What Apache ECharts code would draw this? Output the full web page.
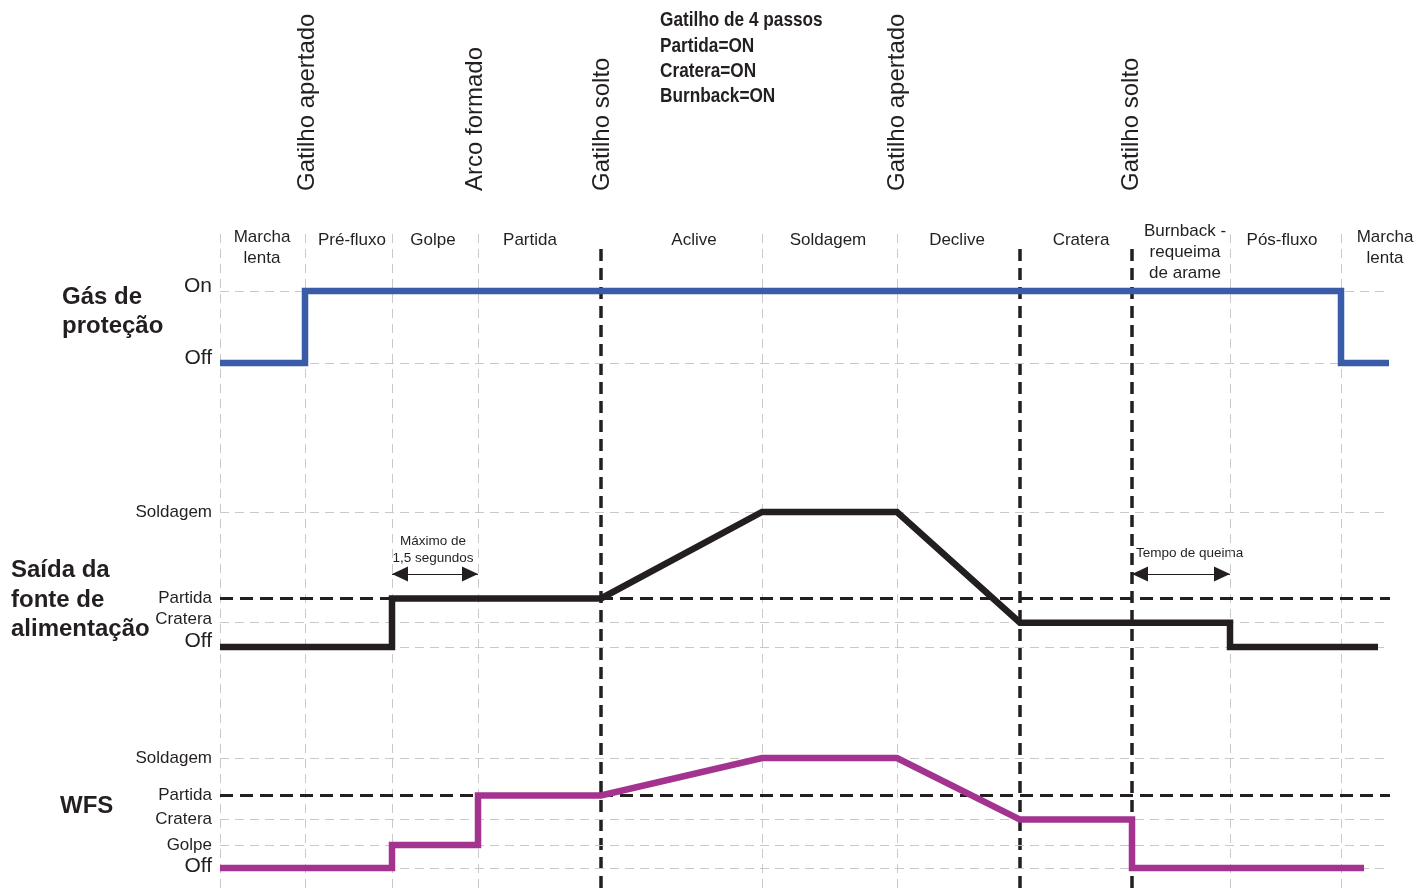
<!DOCTYPE html>
<html>
<head>
<meta charset="utf-8">
<script src="https://cdn.jsdelivr.net/npm/echarts@6/dist/echarts.min.js"></script>
<style>
html, body { margin: 0; padding: 0; background: #fff; }
#chart { width: 1427px; height: 888px; }
</style>
</head>
<body>
<div id="chart"></div>
<script>
// tempo (unidades do eixo x, 0 = início do diagrama)
var phaseBounds = [0, 85, 172, 258, 381, 542, 677, 800, 912, 1010, 1121];
var triggerTimes = [381, 800, 912];   // linhas pretas tracejadas
var phaseNames = ['Marcha\nlenta', 'Pré-fluxo', 'Golpe', 'Partida', 'Aclive', 'Soldagem', 'Declive', 'Cratera', 'Burnback -\nrequeima\nde arame', 'Pós-fluxo', 'Marcha\nlenta'];
var phaseCenters = [42, 132, 213, 310, 474, 608, 737, 861, 965, 1062, 1165];
var eventNames = ['Gatilho apertado', 'Arco formado', 'Gatilho solto', 'Gatilho apertado', 'Gatilho solto'];
var eventTimes = [87, 255, 382, 677, 911];

// Gás de proteção
var gasLevelNames = ['Off', 'On'];
var gasLevelValues = [0, 1];
var gasTime = [0, 85, 85, 1121, 1121, 1169];
var gasValue = [0, 0, 1, 1, 0, 0];

// Saída da fonte de alimentação
var powerLevelNames = ['Off', 'Cratera', 'Partida', 'Soldagem'];
var powerLevelValues = [0, 1.8, 3.6, 10];
var powerTime = [0, 172, 172, 381, 542, 677, 800, 1010, 1010, 1158];
var powerValue = [0, 0, 3.6, 3.6, 10, 10, 1.8, 1.8, 0, 0];

// WFS
var wfsLevelNames = ['Off', 'Golpe', 'Cratera', 'Partida', 'Soldagem'];
var wfsLevelValues = [0, 2.1, 4.4, 6.6, 10];
var wfsTime = [0, 172, 172, 258, 258, 381, 542, 677, 800, 912, 912, 1144];
var wfsValue = [0, 0, 2.1, 2.1, 6.6, 6.6, 10, 10, 4.4, 4.4, 0, 0];

// setas de duração
var arrowStart = [172, 912];
var arrowEnd = [258, 1010];
var arrowLevel = 5.4;

var INK = '#231f20';
var GRID_GRAY = '#c9c9c9';

function zip(xs, ys) {
    var out = [];
    for (var i = 0; i < xs.length; i++) out.push([xs[i], ys[i]]);
    return out;
}

function levelAxis(idx, names, values, max, offUp) {
    return {
        type: 'value', gridIndex: idx, min: 0, max: max,
        axisLine: {show: false}, axisTick: {show: false}, splitLine: {show: false},
        axisLabel: {
            customValues: values, margin: 8, color: INK, fontSize: 17,
            formatter: function (v) {
                var n = names[values.indexOf(v)];
                if (n === 'Off' || n === 'On') return '{big|' + n + '}';
                if (n === 'Cratera' && idx === 1) return '{up|' + n + '}';
                return n;
            },
            rich: {
                big: {fontSize: 21, color: INK, padding: [0, 0, offUp, 0]},
                up: {fontSize: 17, color: INK, padding: [0, 0, 6, 0]}
            }
        }
    };
}

function levelLines(idx, values, partida) {
    var data = [];
    for (var i = 0; i < values.length; i++) {
        if (values[i] === partida) {
            data.push({yAxis: values[i], lineStyle: {color: INK, width: 3, type: [13, 7]}});
        } else {
            data.push({yAxis: values[i]});
        }
    }
    return {
        type: 'line', xAxisIndex: idx, yAxisIndex: idx, data: [], z: 2, silent: true,
        markLine: {
            silent: true, symbol: 'none', animation: false, label: {show: false},
            lineStyle: {color: GRID_GRAY, width: 1, type: [9, 6]},
            data: data
        }
    };
}

function signal(idx, xs, ys, color) {
    return {
        type: 'line', xAxisIndex: idx, yAxisIndex: idx, data: zip(xs, ys),
        symbol: 'none', clip: false, z: 5, animation: false,
        lineStyle: {color: color, width: 6.5, join: 'miter', cap: 'butt'}
    };
}

var verticalGray = [];
for (var i = 0; i < phaseBounds.length; i++) {
    if (triggerTimes.indexOf(phaseBounds[i]) < 0) verticalGray.push({xAxis: phaseBounds[i]});
}
var verticalBlack = [];
for (var i = 0; i < triggerTimes.length; i++) {
    verticalBlack.push([{coord: [triggerTimes[i], 0]}, {coord: [triggerTimes[i], 0.975]}]);
}
var arrows = [];
for (var i = 0; i < arrowStart.length; i++) {
    arrows.push([{coord: [arrowStart[i], arrowLevel]}, {coord: [arrowEnd[i], arrowLevel]}]);
}

var chart = echarts.init(document.getElementById('chart'));
var option = {
    animation: false,
    textStyle: {fontFamily: 'Liberation Sans, Arial, sans-serif'},
    grid: [
        {left: 220, width: 1170, top: 291, height: 72},
        {left: 220, width: 1170, top: 512, height: 135},
        {left: 220, width: 1170, top: 758, height: 110},
        {left: 220, width: 1170, top: 228, height: 660}
    ],
    xAxis: [0, 1, 2, 3].map(function (i) {
        return {type: 'value', gridIndex: i, min: 0, max: 1170, show: false};
    }),
    yAxis: [
        levelAxis(0, gasLevelNames, gasLevelValues, 1, 10),
        levelAxis(1, powerLevelNames, powerLevelValues, 10, 12),
        levelAxis(2, wfsLevelNames, wfsLevelValues, 10, 4),
        {type: 'value', gridIndex: 3, min: 0, max: 1, show: false}
    ],
    series: [
        {
            type: 'line', xAxisIndex: 3, yAxisIndex: 3, data: [], z: 1, silent: true,
            markLine: {
                silent: true, symbol: 'none', animation: false, label: {show: false},
                lineStyle: {color: GRID_GRAY, width: 1, type: [9, 6]},
                data: verticalGray
            }
        },
        {
            type: 'line', xAxisIndex: 3, yAxisIndex: 3, data: [], z: 3, silent: true,
            markLine: {
                silent: true, symbol: 'none', animation: false, label: {show: false},
                lineStyle: {color: INK, width: 3.5, type: [12, 7]},
                data: verticalBlack
            }
        },
        levelLines(0, gasLevelValues, null),
        levelLines(1, powerLevelValues, 3.6),
        levelLines(2, wfsLevelValues, 6.6),
        {
            type: 'line', xAxisIndex: 1, yAxisIndex: 1, data: [], z: 4, silent: true,
            markLine: {
                silent: true, symbol: ['triangle', 'triangle'], symbolSize: [15, 16],
                symbolOffset: [[0, 8], [0, 8]], animation: false,
                label: {show: false},
                lineStyle: {color: INK, width: 1.2, type: 'solid'},
                itemStyle: {color: INK},
                data: arrows
            }
        },
        signal(0, gasTime, gasValue, '#3a5ba8'),
        signal(1, powerTime, powerValue, INK),
        signal(2, wfsTime, wfsValue, '#a3338f')
    ]
};
chart.setOption(option);

function px(t) {
    return chart.convertToPixel({xAxisIndex: 3}, t);
}

var texts = [];
for (var i = 0; i < eventNames.length; i++) {
    texts.push({
        type: 'text', x: px(eventTimes[i]), y: 191, rotation: Math.PI / 2,
        style: {text: eventNames[i], fill: INK, font: '24px Liberation Sans, Arial, sans-serif',
            align: 'left', verticalAlign: 'middle'}
    });
}
for (var i = 0; i < phaseNames.length; i++) {
    var lines = phaseNames[i].split('\n').length;
    texts.push({
        type: 'text', x: px(phaseCenters[i]), y: lines === 1 ? 240 : (lines === 2 ? 248 : 252),
        style: {text: phaseNames[i], fill: INK, font: '17px Liberation Sans, Arial, sans-serif',
            align: 'center', verticalAlign: 'middle', lineHeight: 21}
    });
}
texts.push({
    type: 'text', x: 660, y: 8, scaleX: 0.82,
    style: {text: 'Gatilho de 4 passos\nPartida=ON\nCratera=ON\nBurnback=ON', fill: INK,
        font: 'bold 21px Liberation Sans Narrow, Liberation Sans, Arial, sans-serif', lineHeight: 25.3,
        align: 'left', verticalAlign: 'top'}
});
texts.push({
    type: 'text', x: 62, y: 312,
    style: {text: 'Gás de\nproteção', fill: INK, font: 'bold 24px Liberation Sans, Arial, sans-serif',
        lineHeight: 29, align: 'left', verticalAlign: 'middle'}
});
texts.push({
    type: 'text', x: 11, y: 600,
    style: {text: 'Saída da\nfonte de\nalimentação', fill: INK, font: 'bold 24px Liberation Sans, Arial, sans-serif',
        lineHeight: 29.5, align: 'left', verticalAlign: 'middle'}
});
texts.push({
    type: 'text', x: 60, y: 806,
    style: {text: 'WFS', fill: INK, font: 'bold 24px Liberation Sans, Arial, sans-serif',
        align: 'left', verticalAlign: 'middle'}
});
texts.push({
    type: 'text', x: px(213), y: 550,
    style: {text: 'Máximo de\n1,5 segundos', fill: INK, font: '13.5px Liberation Sans, Arial, sans-serif',
        lineHeight: 17, align: 'center', verticalAlign: 'middle'}
});
texts.push({
    type: 'text', x: px(916), y: 553,
    style: {text: 'Tempo de queima', fill: INK, font: '13.5px Liberation Sans, Arial, sans-serif',
        align: 'left', verticalAlign: 'middle'}
});
chart.setOption({graphic: {elements: texts}});
</script>
</body>
</html>
